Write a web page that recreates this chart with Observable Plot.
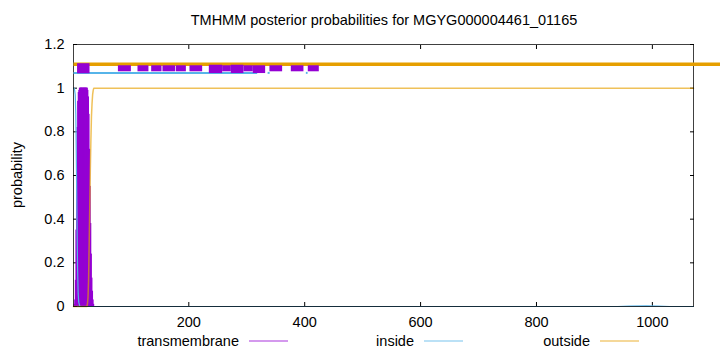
<!DOCTYPE html>
<html><head><meta charset="utf-8">
<script src="https://cdn.jsdelivr.net/npm/d3@7"></script>
<script src="https://cdn.jsdelivr.net/npm/@observablehq/plot@0.6"></script>
<style>
html,body{margin:0;padding:0;background:#fff;}
#wrap{position:relative;width:720px;height:352px;overflow:hidden;font-family:"Liberation Sans",Arial,Helvetica,sans-serif;}
#wrap svg{position:absolute;left:0;top:0;}
</style></head><body><div id="wrap"></div>
<script>
const title = "TMHMM posterior probabilities for MGYG000004461_01165";
const yLabel = "probability";
const seriesNames = ["transmembrane", "inside", "outside"];
const seriesColors = ["#9400D3", "#56B4E9", "#E69F00"];
const seqLength = 1071;
const xTicks = [200, 400, 600, 800, 1000];
const yTicks = [0, 0.2, 0.4, 0.6, 0.8, 1, 1.2];

// N-terminal residues 1..40
const headPos = [1,2,3,4,5,6,7,8,9,10,11,12,13,14,15,16,17,18,19,20,21,22,23,24,25,26,27,28,29,30,31,32,33,34,35,36,37,38,39,40];
const tmHead = [0,0,0.01,0.03,0.12,0.35,0.6,0.82,0.94,0.98,0.99,1,1,1,1,1,1,1,1,1,1,1,1,1,0.99,0.96,0.88,0.72,0.55,0.38,0.24,0.13,0.07,0.03,0.01,0,0,0,0,0];
const insideHead = [1,1,0.99,0.97,0.88,0.65,0.4,0.18,0.06,0.02,0.01,0,0,0,0,0,0,0,0,0,0,0,0,0,0,0,0,0,0,0,0,0,0,0,0,0,0,0,0,0];
const outsideHead = [0,0,0,0,0,0,0,0,0,0,0,0,0,0,0,0,0,0,0,0,0,0,0,0,0.01,0.04,0.12,0.28,0.45,0.62,0.76,0.87,0.93,0.97,0.99,1,1,1,1,1];
// remainder of the sequence
const tailPos = [41, 940, 960, 990, 1010, 1030, 1071];
const insideTail = [0, 0, 0.002, 0.003, 0.002, 0, 0];
const outsideTail = [1, 1, 1, 1, 1, 1, 1];

// topology bars above the curves
const outsideBarLevel = 1.11;
const outsideBarStart = [1];
const outsideBarEnd = [1125];
const insideBarLevel = 1.07;
const insideBarStart = [1, 336, 402];
const insideBarEnd = [318, 339.5, 405];
const tmBarStart = [8, 78.5, 112.3, 135.9, 155.4, 178.5, 202, 235.4, 258.4, 273.4, 295.1, 311.3, 340, 376.9, 406.2];
const tmBarEnd   = [29.5, 100.9, 131.2, 153.7, 177.3, 195.8, 223.9, 258.4, 273.4, 295.1, 311.3, 332.6, 361.9, 398.7, 425.2];
const tmBarLow   = [1.066, 1.075, 1.075, 1.075, 1.075, 1.075, 1.075, 1.067, 1.075, 1.067, 1.075, 1.067, 1.075, 1.075, 1.075];
const tmBarHigh  = [1.112, 1.1026, 1.1026, 1.1026, 1.1026, 1.1026, 1.1026, 1.105, 1.1026, 1.105, 1.1026, 1.1026, 1.1026, 1.1026, 1.1026];

const [cTM, cIn, cOut] = seriesColors;
const tmData = headPos.map((p, i) => ({pos: p, v: tmHead[i]}));
const inData = headPos.map((p, i) => ({pos: p, v: insideHead[i]})).concat(tailPos.map((p, i) => ({pos: p, v: insideTail[i]})));
const outData = headPos.map((p, i) => ({pos: p, v: outsideHead[i]})).concat(tailPos.map((p, i) => ({pos: p, v: outsideTail[i]})));
const outBars = outsideBarStart.map((s, i) => ({s, e: outsideBarEnd[i], y: outsideBarLevel}));
const inBars = insideBarStart.map((s, i) => ({s, e: insideBarEnd[i], y: insideBarLevel}));
const tmBars = tmBarStart.map((s, i) => ({s, e: tmBarEnd[i], lo: tmBarLow[i], hi: tmBarHigh[i]}));

const fmt = d => String(d);
const chart = Plot.plot({
  width: 720, height: 352,
  marginLeft: 73, marginRight: 27, marginTop: 44, marginBottom: 46,
  x: {domain: [1, seqLength]},
  y: {domain: [0, 1.2]},
  style: {fontFamily: '"Liberation Sans",Arial,Helvetica,sans-serif', fontSize: "14.5px", color: "black", background: "white"},
  marks: [
    Plot.axisX(xTicks, {anchor: "bottom", tickSize: 0, tickPadding: 10, tickFormat: fmt, label: null}),
    Plot.axisX(xTicks, {anchor: "bottom", tickSize: -4, tickFormat: () => "", label: null}),
    Plot.axisX(xTicks, {anchor: "top", tickSize: -4, tickFormat: () => "", label: null}),
    Plot.axisY(yTicks, {anchor: "left", tickSize: 0, tickPadding: 9, tickFormat: fmt, label: null}),
    Plot.axisY(yTicks, {anchor: "left", tickSize: -4, tickFormat: () => "", label: null}),
    Plot.axisY(yTicks, {anchor: "right", tickSize: -4, tickFormat: () => "", label: null}),
    Plot.ruleX(tmData, {x: "pos", y1: 0, y2: "v", stroke: cTM, strokeWidth: 2}),
    Plot.line(inData, {x: "pos", y: "v", stroke: cIn, strokeWidth: 1.2}),
    Plot.line(outData, {x: "pos", y: "v", stroke: cOut, strokeWidth: 1.5, strokeOpacity: 0.65}),
    Plot.frame({stroke: "black", strokeOpacity: 0.75}),
    Plot.link(outBars, {x1: "s", x2: "e", y1: "y", y2: "y", stroke: cOut, strokeWidth: 3.5}),
    Plot.link(inBars, {x1: "s", x2: "e", y1: "y", y2: "y", stroke: cIn, strokeWidth: 2}),
    Plot.rect(tmBars, {x1: "s", x2: "e", y1: "lo", y2: "hi", fill: cTM})
  ]
});
const wrap = document.getElementById("wrap");
wrap.appendChild(chart);

// title, y label and legend overlay
const ns = "http://www.w3.org/2000/svg";
const ov = document.createElementNS(ns, "svg");
ov.setAttribute("width", 720); ov.setAttribute("height", 352);
ov.style.fontFamily = '"Liberation Sans",Arial,Helvetica,sans-serif';
ov.style.fontSize = "14.5px";
function txt(x, y, s, anchor, rot) {
  const t = document.createElementNS(ns, "text");
  t.setAttribute("x", x); t.setAttribute("y", y);
  t.setAttribute("text-anchor", anchor);
  t.setAttribute("fill", "black");
  if (rot) { t.setAttribute("transform", `rotate(-90 ${x} ${y})`); t.setAttribute("dominant-baseline", "central"); }
  t.textContent = s; ov.appendChild(t);
}
txt(384, 24.5, title, "middle");
txt(17, 175, yLabel, "middle", true);
const legendEnds = [239, 414, 590];
seriesNames.forEach((n, i) => {
  txt(legendEnds[i], 346, n, "end");
  const l = document.createElementNS(ns, "line");
  l.setAttribute("x1", legendEnds[i] + 10); l.setAttribute("x2", legendEnds[i] + 49);
  l.setAttribute("y1", 341); l.setAttribute("y2", 341);
  l.setAttribute("stroke", seriesColors[i]); l.setAttribute("stroke-width", 1);
  l.setAttribute("stroke-opacity", 0.8);
  ov.appendChild(l);
});
wrap.appendChild(ov);
</script></body></html>
